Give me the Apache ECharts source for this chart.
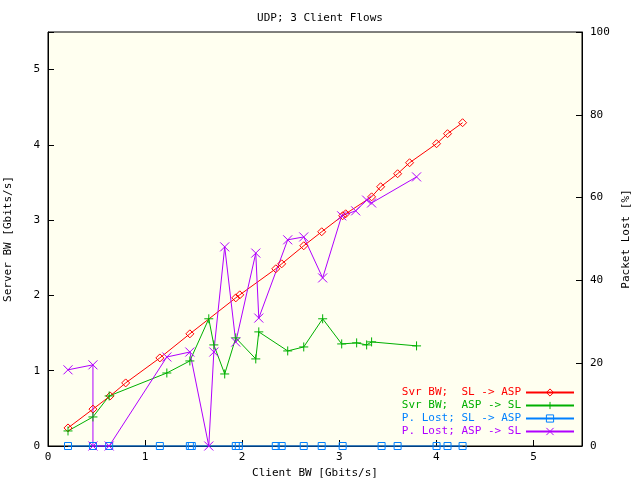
<!DOCTYPE html><html><head><meta charset="utf-8">
<script src="https://cdn.jsdelivr.net/npm/echarts@6/dist/echarts.min.js"></script>
<style>html,body{margin:0;background:#fff}#c{width:640px;height:480px}</style></head><body><div id="c"></div><script>
const names=['Svr BW;  SL -> ASP','Svr BW;  ASP -> SL','P. Lost; SL -> ASP','P. Lost; ASP -> SL'];
const colors=['#ff0000','#00b000','#0080ff','#b000ff'];
const redX=[0.206,0.463,0.64,0.80,1.152,1.461,1.934,1.975,2.346,2.407,2.634,2.819,3.035,3.066,3.333,3.426,3.601,3.724,4.002,4.115,4.27];
const redY=[0.24,0.49,0.665,0.838,1.17,1.49,1.968,2.008,2.354,2.42,2.66,2.846,3.059,3.085,3.31,3.444,3.617,3.763,4.016,4.149,4.295];
const greenX=[0.206,0.463,0.63,1.224,1.461,1.656,1.708,1.82,1.934,2.14,2.171,2.469,2.634,2.829,3.025,3.179,3.282,3.333,3.796];
const greenY=[0.2,0.386,0.665,0.97,1.13,1.69,1.343,0.957,1.436,1.157,1.516,1.263,1.316,1.69,1.356,1.37,1.343,1.383,1.33];
const blueX=[0.206,0.463,0.63,1.152,1.461,1.481,1.934,1.965,2.346,2.407,2.634,2.819,3.035,3.436,3.601,4.002,4.115,4.27];
const blueY=[0,0,0,0,0,0,0,0,0,0,0,0,0,0,0,0,0,0];
const purX=[0.206,0.463,0.463,0.63,1.224,1.461,1.656,1.708,1.82,1.934,2.14,2.171,2.469,2.634,2.829,3.025,3.169,3.282,3.333,3.796];
const purY=[18.4,19.6,0,0,21.5,22.7,0,22.7,48.1,25.1,46.6,30.9,49.8,50.5,40.6,55.6,56.8,59.4,58.7,65.0];
const xTicks=[0,1,2,3,4,5];
const zip=(a,b)=>a.map((v,i)=>[v,b[i]]);
const F='DejaVu Sans Mono';
const ch=echarts.init(document.getElementById('c'));
const sym=['diamond','path://M0,5L10,5M5,0L5,10','rect','path://M0,0L10,10M0,10L10,0'];
const datas=[zip(redX,redY),zip(greenX,greenY),zip(blueX,blueY),zip(purX,purY)];
const clear='rgba(0,0,0,0)';
ch.setOption({
 animation:false,backgroundColor:'#ffffff',
 title:{text:'UDP; 3 Client Flows',left:'center',top:8,textStyle:{fontFamily:F,fontSize:11,fontWeight:'normal',color:'#000'}},
 grid:{left:48,right:58,top:32,bottom:34,containLabel:false,outerBoundsMode:'none',show:true,backgroundColor:'#fffff0',borderColor:'#000',borderWidth:1},
 legend:{orient:'vertical',right:60,bottom:38,align:'right',itemWidth:48,itemHeight:9,itemGap:2,
  textStyle:{fontFamily:F,fontSize:11},itemStyle:{color:clear},
  data:names.map((n,i)=>({name:n,textStyle:{color:colors[i]},itemStyle:{color:clear,borderColor:colors[i],borderWidth:1}}))},
 xAxis:{type:'value',min:0,max:5.5,interval:1,name:'Client BW [Gbits/s]',nameLocation:'middle',nameGap:20,
  nameTextStyle:{fontFamily:F,fontSize:11,color:'#000'},
  axisLine:{lineStyle:{color:'#000'}},axisTick:{inside:true,length:6,lineStyle:{color:'#000'}},
  axisLabel:{fontFamily:F,fontSize:11,color:'#000',margin:6,formatter:v=>xTicks.includes(v)?String(v):''},splitLine:{show:false}},
 yAxis:[{type:'value',min:0,max:5.5,interval:1,name:'Server BW [Gbits/s]',nameLocation:'middle',nameGap:34,
  nameTextStyle:{fontFamily:F,fontSize:11,color:'#000'},
  axisLine:{lineStyle:{color:'#000'}},axisTick:{inside:true,length:6,lineStyle:{color:'#000'}},
  axisLabel:{fontFamily:F,fontSize:11,color:'#000',formatter:v=>v<=5?String(v):''},splitLine:{show:false}},
  {type:'value',min:0,max:100,interval:20,name:'Packet Lost [%]',nameLocation:'middle',nameGap:36,nameRotate:90,
  nameTextStyle:{fontFamily:F,fontSize:11,color:'#000'},
  axisLine:{show:true,lineStyle:{color:'#000'}},axisTick:{inside:true,length:6,lineStyle:{color:'#000'}},
  axisLabel:{fontFamily:F,fontSize:11,color:'#000'},splitLine:{show:false}}],
 series:datas.map((d,i)=>({name:names[i],type:'line',data:d,yAxisIndex:i>=2?1:0,symbol:sym[i],symbolSize:i===0?8:i===2?7:9,
  lineStyle:{color:colors[i],width:1},itemStyle:{color:clear,borderColor:colors[i],borderWidth:1},
  emphasis:{disabled:true},clip:false}))
});
</script></body></html>
